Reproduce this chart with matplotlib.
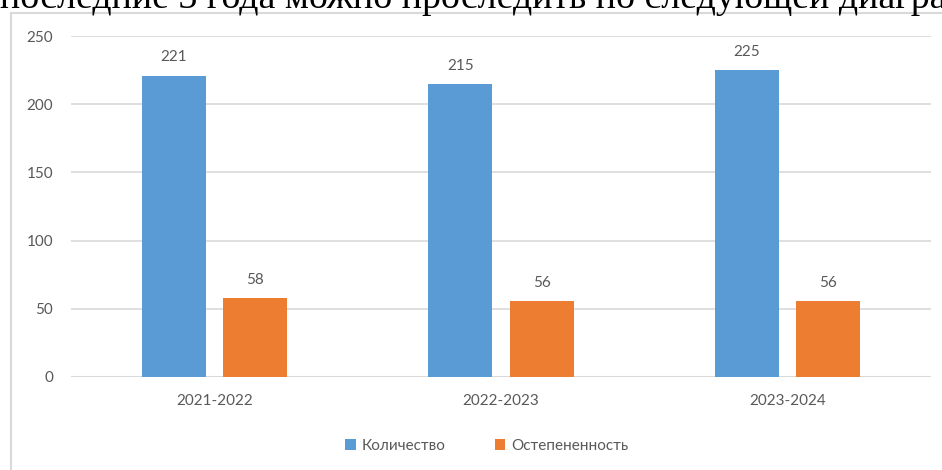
import numpy as np
import matplotlib
matplotlib.use("Agg")
from matplotlib import pyplot as plt
from matplotlib.lines import Line2D

# ─── data ────────────────────────────────────────────────────────────
YEARS = ["2021-2022", "2022-2023", "2023-2024"]
COUNT = [221, 215, 225]          # Количество
DEGREE = [58, 56, 56]            # Остепененность
SERIES = ["Количество", "Остепененность"]
HEADER = "последние 3 года можно проследить по следующей диаграмме"

COLS = ["#5B9BD5", "#ED7D31"]
GRID = "#D9D9D9"
TXT = "#595959"
FONT = ["Lato", "DejaVu Sans"]

fig = plt.figure(figsize=(9.42, 4.70), dpi=100)

# clipped line of document text above the chart
fig.text(0.0, 1 - 8.5 / 470, HEADER, family=["Liberation Serif"], fontsize=27.3,
         color="black", ha="left", va="baseline")

# chart frame (only left and top edges visible)
fig.add_artist(Line2D([11 / 942, 11 / 942], [0, 1 - 13 / 470], color=GRID, lw=1.5))
fig.add_artist(Line2D([11 / 942, 1], [1 - 13 / 470, 1 - 13 / 470], color=GRID, lw=1.5))

ax = fig.add_axes([71 / 942, 1 - 377 / 470, 860 / 942, 341 / 470])

x = np.arange(len(YEARS))
w = 0.223
b1 = ax.bar(x - 0.142, COUNT, w, color=COLS[0], label=SERIES[0], zorder=3)
b2 = ax.bar(x + 0.142, DEGREE, w, color=COLS[1], label=SERIES[1], zorder=3)

for bars in (b1, b2):
    ax.bar_label(bars, padding=8, fontsize=11, color=TXT, family=FONT)

ax.set_xlim(-0.5, 2.5)
ax.set_ylim(0, 250)
ax.set_yticks(range(0, 251, 50))
ax.yaxis.grid(True, color=GRID, lw=1.2, zorder=0)
ax.set_xticks(x)
ax.set_xticklabels(YEARS)
ax.tick_params(length=0, labelsize=11, labelcolor=TXT, pad=12)
ax.tick_params(axis="y", pad=13)
for lbl in ax.get_xticklabels() + ax.get_yticklabels():
    lbl.set_family(FONT)
for s in ax.spines.values():
    s.set_visible(False)
ax.axhline(0, color=GRID, lw=1.5, zorder=2)

fig.legend(loc="center", bbox_to_anchor=(0.517, 1 - 446 / 470), ncol=2,
           frameon=False, prop={"family": FONT, "size": 11}, labelcolor=TXT,
           handlelength=0.7, handleheight=0.7, columnspacing=3.2, handletextpad=0.4)

fig.savefig("out.png", dpi=100)
